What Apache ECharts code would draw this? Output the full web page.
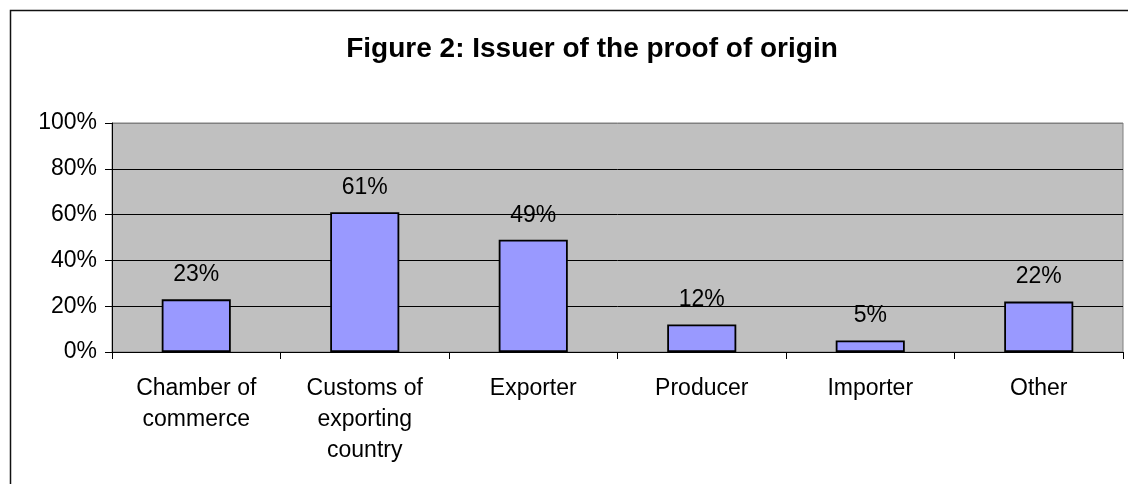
<!DOCTYPE html>
<html>
<head>
<meta charset="utf-8">
<script src="https://cdn.jsdelivr.net/npm/echarts@6/dist/echarts.min.js"></script>
<style>
html,body{margin:0;padding:0;background:#fff;}
#chart{width:1128px;height:484px;}
</style>
</head>
<body>
<div id="chart"></div>
<script>
var titleText = 'Figure 2: Issuer of the proof of origin';
var categories = ['Chamber of\ncommerce', 'Customs of\nexporting\ncountry', 'Exporter', 'Producer', 'Importer', 'Other'];
var values = [23, 61, 49, 12, 5, 22];
var yTicks = { min: 0, max: 100, interval: 20 };

var FONT = "'Liberation Sans', Arial, sans-serif";
var chart = echarts.init(document.getElementById('chart'), null, { renderer: 'canvas' });
chart.setOption({
  animation: false,
  backgroundColor: '#ffffff',
  title: {
    text: titleText,
    left: 587,
    top: 30,
    textAlign: 'center',
    textStyle: { fontFamily: FONT, fontWeight: 'bold', fontSize: 28, color: '#000' }
  },
  graphic: [{
    type: 'rect',
    silent: true,
    z: -1,
    shape: { x: 10.5, y: 10.5, width: 1300, height: 700 },
    style: { fill: 'none', stroke: '#111', lineWidth: 1.5 }
  }],
  grid: {
    left: 112, right: 5, top: 123, bottom: 132,
    show: true, backgroundColor: '#c0c0c0', borderColor: '#808080', borderWidth: 1
  },
  xAxis: {
    type: 'category',
    data: categories,
    boundaryGap: true,
    axisLine: { lineStyle: { color: '#000', width: 1 } },
    axisTick: { show: true, length: 7, alignWithLabel: false, lineStyle: { color: '#000' } },
    axisLabel: { fontFamily: FONT, fontSize: 23, color: '#000', margin: 21, lineHeight: 31, interval: 0 }
  },
  yAxis: {
    type: 'value',
    min: yTicks.min, max: yTicks.max, interval: yTicks.interval,
    axisLine: { show: true, lineStyle: { color: '#000', width: 1 } },
    axisTick: { show: true, length: 7, lineStyle: { color: '#000' } },
    axisLabel: { fontFamily: FONT, fontSize: 23, color: '#000', margin: 15, formatter: '{value}%' },
    splitLine: { show: true, lineStyle: { color: ['#000', '#000', '#000', '#000', '#000', '#808080'], width: 1 } }
  },
  series: [{
    type: 'bar',
    data: values,
    barWidth: '41%',
    itemStyle: { color: '#9999ff', borderColor: '#000', borderWidth: 1.8 },
    label: {
      show: true, position: 'top', distance: 13,
      formatter: '{c}%',
      fontFamily: FONT, fontSize: 23, color: '#000'
    }
  }]
});
</script>
</body>
</html>
